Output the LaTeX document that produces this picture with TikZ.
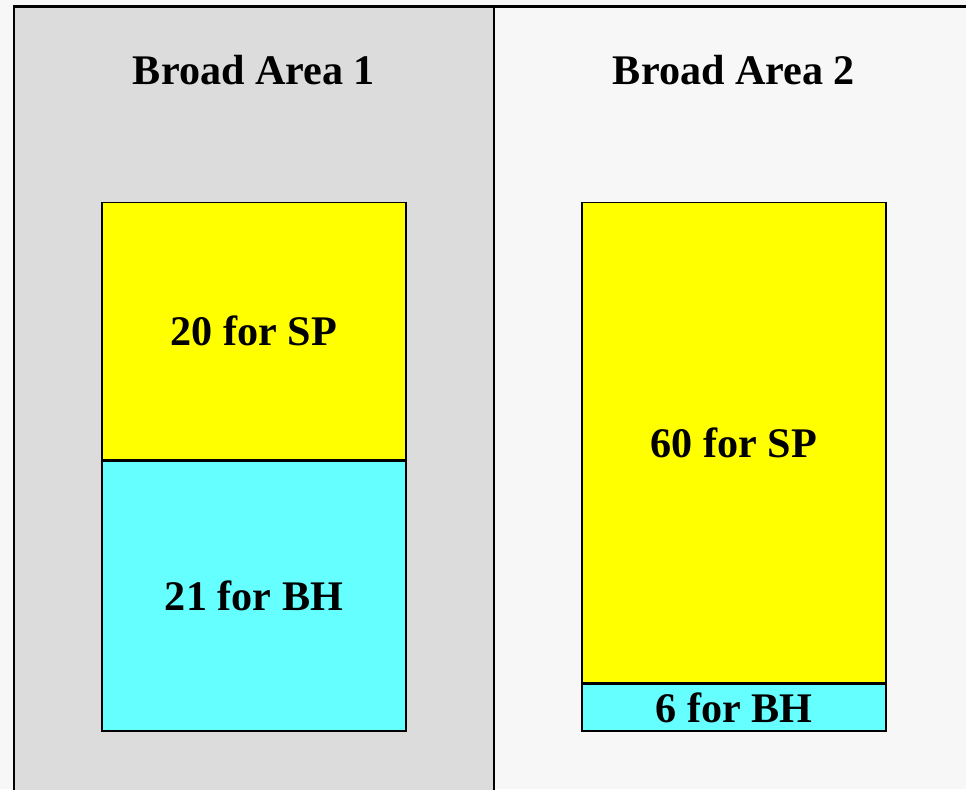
\documentclass[tikz,border=0pt]{standalone}
\usepackage{fontspec}
\setmainfont{Liberation Serif}
\usetikzlibrary{positioning}
\definecolor{pagebg}{HTML}{F7F7F7}
\definecolor{areagray}{HTML}{DCDCDC}
\definecolor{spyellow}{HTML}{FFFF00}
\definecolor{bhcyan}{HTML}{66FFFF}

\begin{document}
\begin{tikzpicture}[
		title/.style={font=\fontsize{24}{28}\selectfont\bfseries},
		part/.style={draw, line width=0.8pt, minimum width=6.08cm, inner sep=0pt, font=\fontsize{24}{28}\selectfont\bfseries},
		sp/.style={part, fill=spyellow},
		bh/.style={part, fill=bhcyan}
	]
		\fill[pagebg] (0,0) rectangle (19.32,-15.78);
		\useasboundingbox (0,0) rectangle (19.32,-15.78);
		\fill[areagray] (0.28,-0.13) rectangle (9.88,-15.9);
		\draw[line width=1.2pt] (0.28,-15.9)|-(19.4,-0.13);
		\draw[line width=1.2pt] (9.88,-0.13)--(9.88,-15.9);
		\node[title] (title1) at (5.08,-1.4) {Broad Area 1};
		\node[title] (title2) at (14.68,-1.4) {Broad Area 2};
		% area 1
		\node[sp, minimum height=5.14cm, anchor=north] (sp1) at (5.08,-4.04) {20 for SP};
		\node[bh, minimum height=5.40cm, anchor=north] (bh1) at (sp1.south) {21 for BH};
		% area 2
		\node[sp, minimum height=9.60cm, anchor=north] (sp2) at (14.68,-4.04) {60 for SP};
		\node[bh, minimum height=0.94cm, anchor=north] (bh2) at (sp2.south) {6 for BH};
	\end{tikzpicture}
\end{document}
